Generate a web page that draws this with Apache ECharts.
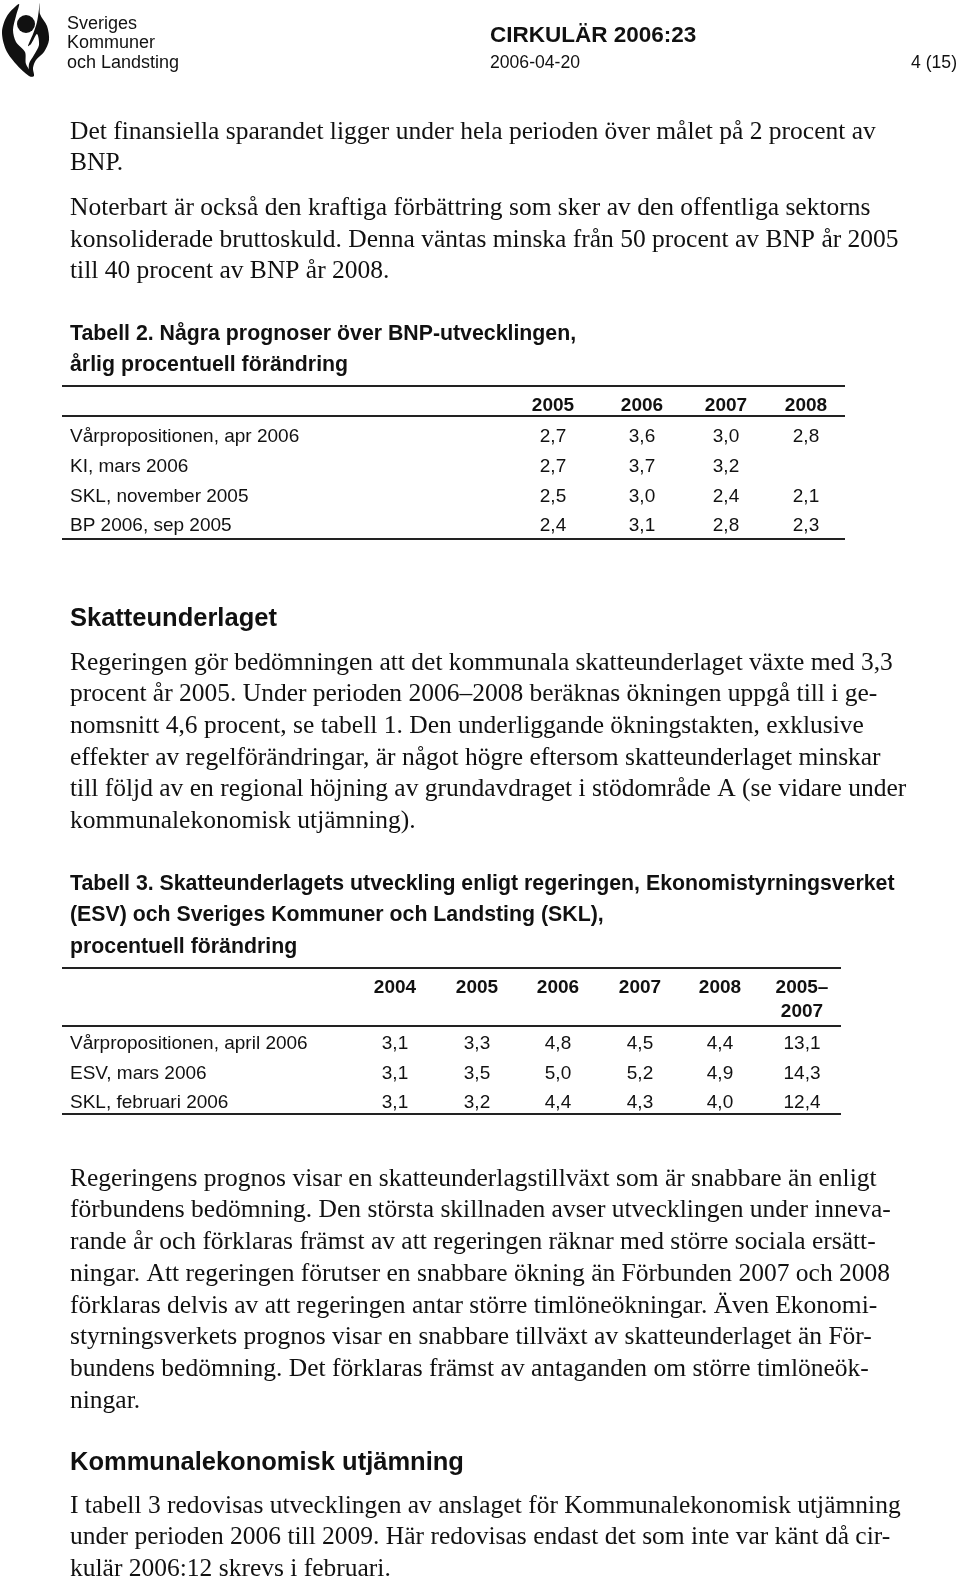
<!DOCTYPE html>
<html>
<head>
<meta charset="utf-8">
<script src="https://cdn.jsdelivr.net/npm/echarts@6/dist/echarts.min.js"></script>
<style>
    html, body { margin: 0; padding: 0; background: #fff; }
    #page { width: 960px; height: 1577px; }
</style>
</head>
<body>
<div id="page"></div>
<script>
// Tabell 2 - BNP-prognoser
var bnpYears = ['2005', '2006', '2007', '2008'];
var bnpSources = ['Vårpropositionen, apr 2006', 'KI, mars 2006', 'SKL, november 2005', 'BP 2006, sep 2005'];
var bnpValues = [
    ['2,7', '3,6', '3,0', '2,8'],
    ['2,7', '3,7', '3,2', ''],
    ['2,5', '3,0', '2,4', '2,1'],
    ['2,4', '3,1', '2,8', '2,3']
];

// Tabell 3 - skatteunderlagets utveckling
var skuYears = ['2004', '2005', '2006', '2007', '2008', '2005–\n2007'];
var skuSources = ['Vårpropositionen, april 2006', 'ESV, mars 2006', 'SKL, februari 2006'];
var skuValues = [
    ['3,1', '3,3', '4,8', '4,5', '4,4', '13,1'],
    ['3,1', '3,5', '5,0', '5,2', '4,9', '14,3'],
    ['3,1', '3,2', '4,4', '4,3', '4,0', '12,4']
];

// brödtext, rad för rad
var para1 = ['Det finansiella sparandet ligger under hela perioden över målet på 2 procent av', 'BNP.'];
var para2 = ['Noterbart är också den kraftiga förbättring som sker av den offentliga sektorns',
    'konsoliderade bruttoskuld. Denna väntas minska från 50 procent av BNP år 2005',
    'till 40 procent av BNP år 2008.'];
var tab2Title = ['Tabell 2. Några prognoser över BNP-utvecklingen,', 'årlig procentuell förändring'];
var para3 = ['Regeringen gör bedömningen att det kommunala skatteunderlaget växte med 3,3',
    'procent år 2005. Under perioden 2006–2008 beräknas ökningen uppgå till i ge-',
    'nomsnitt 4,6 procent, se tabell 1. Den underliggande ökningstakten, exklusive',
    'effekter av regelförändringar, är något högre eftersom skatteunderlaget minskar',
    'till följd av en regional höjning av grundavdraget i stödområde A (se vidare under',
    'kommunalekonomisk utjämning).'];
var tab3Title = ['Tabell 3. Skatteunderlagets utveckling enligt regeringen, Ekonomistyrningsverket',
    '(ESV) och Sveriges Kommuner och Landsting (SKL),', 'procentuell förändring'];
var para4 = ['Regeringens prognos visar en skatteunderlagstillväxt som är snabbare än enligt',
    'förbundens bedömning. Den största skillnaden avser utvecklingen under inneva-',
    'rande år och förklaras främst av att regeringen räknar med större sociala ersätt-',
    'ningar. Att regeringen förutser en snabbare ökning än Förbunden 2007 och 2008',
    'förklaras delvis av att regeringen antar större timlöneökningar. Även Ekonomi-',
    'styrningsverkets prognos visar en snabbare tillväxt av skatteunderlaget än För-',
    'bundens bedömning. Det förklaras främst av antaganden om större timlöneök-',
    'ningar.'];
var para5 = ['I tabell 3 redovisas utvecklingen av anslaget för Kommunalekonomisk utjämning',
    'under perioden 2006 till 2009. Här redovisas endast det som inte var känt då cir-',
    'kulär 2006:12 skrevs i februari.'];

var serif = '25.5px "Liberation Serif", "Times New Roman", serif';
var sansBold = 'bold 21.3px "Liberation Sans", Arial, sans-serif';
var headBold = 'bold 25.5px "Liberation Sans", Arial, sans-serif';
var tableFont = '19px "Liberation Sans", Arial, sans-serif';
var tableBold = 'bold 19px "Liberation Sans", Arial, sans-serif';

var elements = [];

function txt(s, x, y, font, align) {
    elements.push({
        type: 'text',
        style: {
            text: s, x: x, y: y + 2, font: font, fill: '#111',
            textAlign: align || 'left', textVerticalAlign: 'middle'
        }
    });
}
function lines(arr, x, y0, step, font) {
    arr.forEach(function (s, i) { txt(s, x, y0 + i * step, font); });
}
function hline(x1, x2, y, w) {
    elements.push({
        type: 'line',
        shape: { x1: x1, y1: y, x2: x2, y2: y },
        style: { stroke: '#222', lineWidth: w || 2 }
    });
}

// logga (ungefärlig)
elements.push({
    type: 'polygon',
    shape: { points: [[19, 4], [7, 16], [2, 32], [6, 50], [16, 64], [29, 76], [33, 76], [26, 64], [25, 52], [16, 42], [13, 30], [16, 16]], smooth: 0.3 },
    style: { fill: '#111' }
});
elements.push({
    type: 'polygon',
    shape: { points: [[40, 3], [40, 14], [47, 26], [49, 40], [44, 52], [36, 60], [33, 68], [34, 76], [30, 76], [29, 64], [34, 55], [39, 45], [37, 34], [31, 44], [28, 46], [33, 34], [37, 22]], smooth: 0.3 },
    style: { fill: '#111' }
});
elements.push({ type: 'circle', shape: { cx: 26, cy: 24, r: 9 }, style: { fill: '#111' } });
lines(['Sveriges', 'Kommuner', 'och Landsting'], 67, 22, 19.5, '18px "Liberation Sans", Arial, sans-serif');

// sidhuvud
txt('CIRKULÄR 2006:23', 490, 34, 'bold 22.5px "Liberation Sans", Arial, sans-serif');
txt('2006-04-20', 490, 61, '17.6px "Liberation Sans", Arial, sans-serif');
txt('4 (15)', 957, 61, '17.6px "Liberation Sans", Arial, sans-serif', 'right');

// inledande stycken
lines(para1, 70, 130, 31.5, serif);
lines(para2, 70, 206, 31.8, serif);

// Tabell 2
lines(tab2Title, 70, 332, 31, sansBold);
var t2Cols = [553, 642, 726, 806];
hline(62, 845, 386, 2);
bnpYears.forEach(function (y, j) { txt(y, t2Cols[j], 404, tableBold, 'center'); });
hline(62, 845, 416, 2);
bnpSources.forEach(function (s, i) {
    var ry = 435 + i * 29.7;
    txt(s, 70, ry, tableFont);
    bnpValues[i].forEach(function (v, j) { txt(v, t2Cols[j], ry, tableFont, 'center'); });
});
hline(62, 845, 539, 2);

// Skatteunderlaget
txt('Skatteunderlaget', 70, 617, headBold);
lines(para3, 70, 661, 31.6, serif);

// Tabell 3
lines(tab3Title, 70, 882, 31.5, sansBold);
var t3Cols = [395, 477, 558, 640, 720, 802];
hline(62, 841, 968, 2);
skuYears.forEach(function (y, j) {
    y.split('\n').forEach(function (part, k) { txt(part, t3Cols[j], 986 + k * 24, tableBold, 'center'); });
});
hline(62, 841, 1026, 2);
skuSources.forEach(function (s, i) {
    var ry = 1042 + i * 29.5;
    txt(s, 70, ry, tableFont);
    skuValues[i].forEach(function (v, j) { txt(v, t3Cols[j], ry, tableFont, 'center'); });
});
hline(62, 841, 1114, 2);

lines(para4, 70, 1177, 31.7, serif);

// Kommunalekonomisk utjämning
txt('Kommunalekonomisk utjämning', 70, 1461, headBold);
lines(para5, 70, 1504, 31.6, serif);

var pageChart = echarts.init(document.getElementById('page'), null, { renderer: 'canvas' });
pageChart.setOption({
    backgroundColor: '#fff',
    animation: false,
    graphic: { elements: elements }
});
</script>
</body>
</html>
